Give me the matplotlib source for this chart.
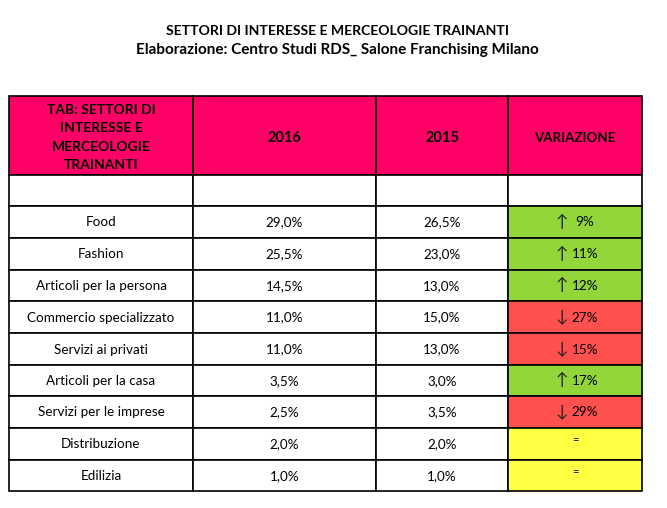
import matplotlib
matplotlib.use('Agg')
import matplotlib.pyplot as plt
from matplotlib.patches import Rectangle

title = 'SETTORI DI INTERESSE E MERCEOLOGIE TRAINANTI'
subtitle = 'Elaborazione: Centro Studi RDS_ Salone Franchising Milano'
headers = ['TAB: SETTORI DI\nINTERESSE E\nMERCEOLOGIE\nTRAINANTI', '2016', '2015', 'VARIAZIONE']

sectors = ['Food', 'Fashion', 'Articoli per la persona', 'Commercio specializzato', 'Servizi ai privati',
           'Articoli per la casa', 'Servizi per le imprese', 'Distribuzione', 'Edilizia']
values_2016 = ['29,0%', '25,5%', '14,5%', '11,0%', '11,0%', '3,5%', '2,5%', '2,0%', '1,0%']
values_2015 = ['26,5%', '23,0%', '13,0%', '15,0%', '13,0%', '3,0%', '3,5%', '2,0%', '1,0%']
variation = ['↑ 9%', '↑ 11%', '↑ 12%', '↓ 27%', '↓ 15%', '↑ 17%', '↓ 29%', '=', '=']

# cell grid in image pixels
col_edges = [9, 193, 376, 508, 642]
row_edges = [96, 175, 206, 238, 270, 301, 333, 365, 396, 428, 460, 491]

PINK = '#ff0066'
GREEN = '#92d639'
RED = '#ff5050'
YELLOW = '#ffff44'
FONT = ['Lato', 'DejaVu Sans']

fig = plt.figure(figsize=(6.67, 5.08), dpi=100)
ax = fig.add_axes([0, 0, 1, 1])
ax.set_xlim(0, 667)
ax.set_ylim(508, 0)
ax.axis('off')


def draw_cell(col, row, text='', color='white', dy=0.5, **kwargs):
    x0, x1 = col_edges[col], col_edges[col + 1]
    y0, y1 = row_edges[row], row_edges[row + 1]
    ax.add_patch(Rectangle((x0, y0), x1 - x0, y1 - y0, facecolor=color, edgecolor='black', linewidth=1.2))
    ax.text((x0 + x1) / 2, (y0 + y1) / 2 + dy, text, ha='center', va='center', family=FONT,
            color='black', **{'fontsize': 9.7, **kwargs})


def draw_variation(row, text):
    xc = (col_edges[3] + col_edges[4]) / 2
    yc = (row_edges[row] + row_edges[row + 1]) / 2
    if text == '=':
        draw_cell(3, row, '', YELLOW)
        ax.text(xc, yc - 4, text, ha='center', va='center', family=FONT, fontsize=8)
        return
    arrow, pct = text.split(' ')
    draw_cell(3, row, '', GREEN if arrow == '↑' else RED)
    ax.text(xc - 13, yc, arrow, ha='center', va='center', family=FONT, fontsize=12, color='#222222')
    ax.text(xc + 10, yc + 0.5, pct, ha='center', va='center', family=FONT, fontsize=9.7)


ax.text(337, 31, title, ha='center', va='center', family=FONT, fontsize=10.1, fontweight='bold')
ax.text(337, 50, subtitle, ha='center', va='center', family=FONT, fontsize=11, fontweight='bold')

for i, header in enumerate(headers):
    size = 10.5 if i in (1, 2) else 9.6
    if i == 0:
        draw_cell(i, 0, header, PINK, dy=2, fontweight='bold', fontsize=10, linespacing=1.62)
    else:
        draw_cell(i, 0, header, PINK, dy=2, fontweight='bold', fontsize=size)
for i in range(4):
    draw_cell(i, 1)

for i, sector in enumerate(sectors):
    row = i + 2
    draw_cell(0, row, sector)
    draw_cell(1, row, values_2016[i])
    draw_cell(2, row, values_2015[i])
    draw_variation(row, variation[i])

fig.savefig('out.png', dpi=100)
